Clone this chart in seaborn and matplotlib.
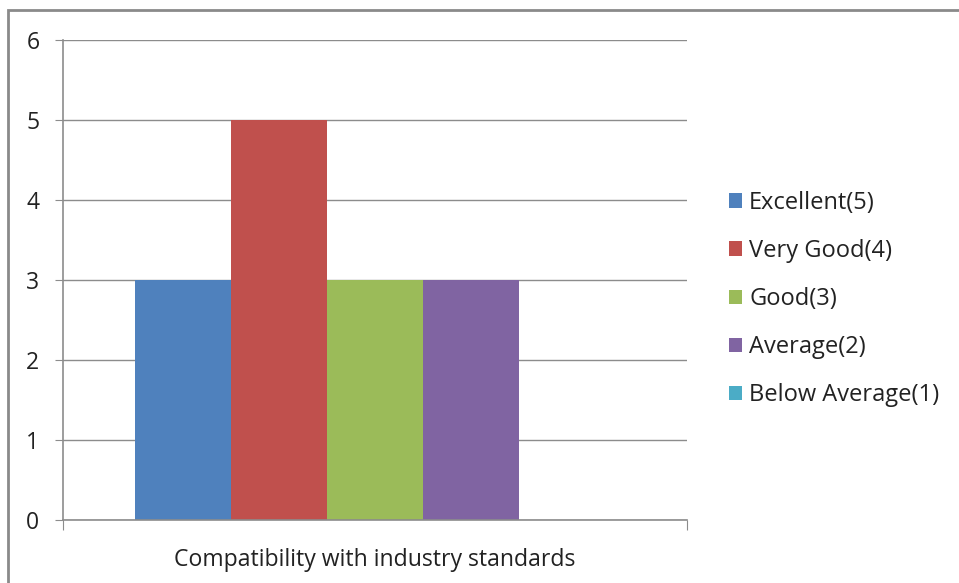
import seaborn as sns
import pandas as pd
import matplotlib.pyplot as plt
from matplotlib.patches import Rectangle, Patch

categories = ['Compatibility with industry standards']
ratings = ['Excellent(5)', 'Very Good(4)', 'Good(3)', 'Average(2)', 'Below Average(1)']
counts = [3, 5, 3, 3, 0]
colors = ['#4F81BD', '#C0504D', '#9BBB59', '#8064A2', '#4BACC6']

data = pd.DataFrame({'category': categories * len(ratings),
                     'rating': ratings,
                     'count': counts})

sns.set_style('white')
plt.rcParams['font.family'] = ['Open Sans', 'DejaVu Sans']

W, H = 959, 583
fig = plt.figure(figsize=(W / 100, H / 100), dpi=100)
ax = fig.add_axes([63 / W, (H - 520) / H, (687 - 63) / W, (520 - 40) / H])

sns.barplot(data=data, x='category', y='count', hue='rating', hue_order=ratings,
            palette=colors, width=0.77, gap=0, saturation=1, linewidth=0,
            ax=ax, legend=False)

ax.set_xlim(-0.5, 0.5)
ax.set_ylim(0, 6)
ax.set_yticks(range(7))
ax.set_xlabel('')
ax.set_ylabel('')
ax.set_xticks([-0.5, 0.5])
ax.set_xticklabels([])
ax.text(0, -0.5, categories[0], ha='center', va='center', fontsize=16.6, color='#222222')

grey = '#8c8c8c'
ax.yaxis.grid(True, color=grey, linewidth=1)
ax.set_axisbelow(True)
for side in ['top', 'right']:
    ax.spines[side].set_visible(False)
for side in ['left', 'bottom']:
    ax.spines[side].set_color(grey)
    ax.spines[side].set_linewidth(1.2)
ax.tick_params(axis='y', length=6, color=grey, labelsize=16.5, pad=11, labelcolor='#222222')
ax.tick_params(axis='x', length=7, color=grey)
ax.tick_params(direction='out', left=True, bottom=True)

handles = [Patch(facecolor=c, edgecolor='none') for c in colors]
fig.legend(handles, ratings, loc='center left', bbox_to_anchor=(729 / W, (H - 299) / H),
           frameon=False, fontsize=17, labelspacing=1.02, handlelength=0.55,
           handleheight=0.55, handletextpad=0.3, borderpad=0, borderaxespad=0,
           labelcolor='#222222')

fig.patches.append(Rectangle((8 / W, -0.1), 1.2, 1.1 - 10 / H, transform=fig.transFigure,
                             fill=False, edgecolor='#8a8a8a', linewidth=2, figure=fig))

plt.savefig('out.png', dpi=100)
